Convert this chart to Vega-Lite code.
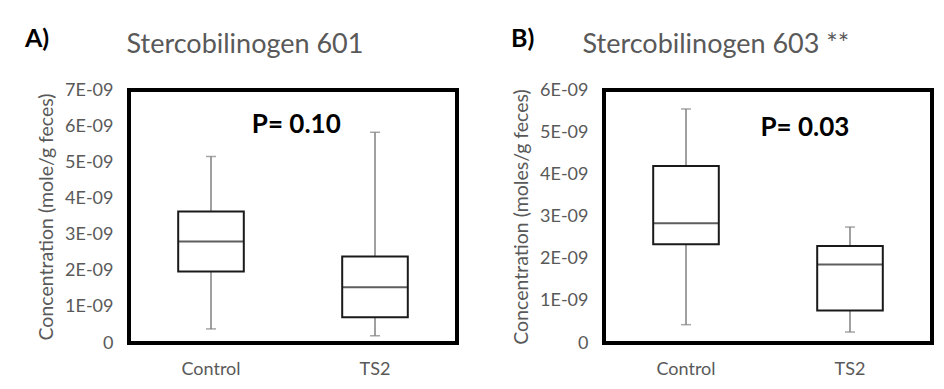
{
  "$schema": "https://vega.github.io/schema/vega-lite/v6.json",
  "background": "white",
  "padding": {"left": 23, "top": 25, "right": 5, "bottom": 5},
  "spacing": 50,
  "datasets": {
    "a": [
      {"group": "Control", "min": 3.9e-10, "q1": 1.98e-9, "median": 2.81e-9, "q3": 3.64e-9, "max": 5.16e-9},
      {"group": "TS2", "min": 2.0e-10, "q1": 7.1e-10, "median": 1.54e-9, "q3": 2.39e-9, "max": 5.83e-9}
    ],
    "b": [
      {"group": "Control", "min": 4.35e-10, "q1": 2.34e-9, "median": 2.84e-9, "q3": 4.2e-9, "max": 5.55e-9},
      {"group": "TS2", "min": 2.6e-10, "q1": 7.7e-10, "median": 1.86e-9, "q3": 2.3e-9, "max": 2.75e-9}
    ],
    "pa": [{"group": "Control", "label": "P= 0.10", "y": 6.04e-9}],
    "pb": [{"group": "TS2", "label": "P= 0.03", "y": 5.09e-9}]
  },
  "hconcat": [
    {
      "width": 328,
      "height": 253,
      "title": {"text": "A)", "anchor": "start", "frame": "group", "dx": -104, "offset": -22, "fontSize": 25, "fontWeight": "bold", "color": "black"},
      "layer": [
        {
          "data": {"name": "a"},
          "encoding": {
            "x": {
              "field": "group", "type": "nominal", "sort": ["Control", "TS2"],
              "scale": {"paddingInner": 0, "paddingOuter": 0},
              "axis": {"title": null, "labelAngle": 0, "ticks": false, "domain": false, "labelPadding": 17}
            }
          },
          "layer": [
            {
              "mark": {"type": "rule", "color": "#808080", "strokeWidth": 1.5},
              "encoding": {
                "y": {
                  "field": "min", "type": "quantitative",
                  "scale": {"domain": [0, 7e-9], "nice": false},
                  "axis": {
                    "title": "Concentration (mole/g feces)",
                    "values": [0, 1e-9, 2e-9, 3e-9, 4e-9, 5e-9, 6e-9, 7e-9],
                    "tickCount": 20,
                    "labelExpr": "datum.value == 0 ? '0' : round(datum.value * 1e9) + 'E-09'",
                    "labelOverlap": false,
                    "ticks": false, "domain": false, "grid": false,
                    "labelPadding": 16, "titlePadding": 8
                  }
                },
                "y2": {"field": "q1"}
              }
            },
            {
              "mark": {"type": "rule", "color": "#808080", "strokeWidth": 1.5},
              "encoding": {"y": {"field": "q3", "type": "quantitative"}, "y2": {"field": "max"}}
            },
            {
              "mark": {"type": "tick", "color": "#808080", "size": 10, "thickness": 1.5},
              "encoding": {"y": {"field": "min", "type": "quantitative"}}
            },
            {
              "mark": {"type": "tick", "color": "#808080", "size": 10, "thickness": 1.5},
              "encoding": {"y": {"field": "max", "type": "quantitative"}}
            },
            {
              "mark": {"type": "bar", "fill": "white", "stroke": "#1a1a1a", "strokeWidth": 2, "width": {"band": 0.4}},
              "encoding": {"y": {"field": "q1", "type": "quantitative"}, "y2": {"field": "q3"}}
            },
            {
              "mark": {"type": "tick", "color": "#1a1a1a", "size": 66, "thickness": 2},
              "encoding": {"y": {"field": "median", "type": "quantitative"}}
            }
          ]
        },
        {
          "data": {"name": "pa"},
          "mark": {"type": "text", "fontSize": 26, "fontWeight": "bold", "color": "black", "baseline": "middle", "align": "center"},
          "encoding": {
            "x": {
              "field": "group", "type": "nominal", "sort": ["Control", "TS2"], "bandPosition": 1.02,
              "axis": {"orient": "top", "title": "Stercobilinogen 601", "labels": false, "ticks": false, "domain": false,
                "titleAnchor": "start", "titleAlign": "left", "titleX": -3, "titleFontSize": 27, "titleColor": "#595959", "titlePadding": 32}
            },
            "y": {"field": "y", "type": "quantitative"},
            "text": {"field": "label"}
          }
        }
      ],
      "resolve": {"axis": {"x": "independent"}}
    },
    {
      "width": 328,
      "height": 253,
      "title": {"text": "B)", "anchor": "start", "frame": "group", "dx": -93, "offset": -22, "fontSize": 25, "fontWeight": "bold", "color": "black"},
      "layer": [
        {
          "data": {"name": "b"},
          "encoding": {
            "x": {
              "field": "group", "type": "nominal", "sort": ["Control", "TS2"],
              "scale": {"paddingInner": 0, "paddingOuter": 0},
              "axis": {"title": null, "labelAngle": 0, "ticks": false, "domain": false, "labelPadding": 17}
            }
          },
          "layer": [
            {
              "mark": {"type": "rule", "color": "#808080", "strokeWidth": 1.5},
              "encoding": {
                "y": {
                  "field": "min", "type": "quantitative",
                  "scale": {"domain": [0, 6e-9], "nice": false},
                  "axis": {
                    "title": "Concentration (moles/g feces)",
                    "values": [0, 1e-9, 2e-9, 3e-9, 4e-9, 5e-9, 6e-9],
                    "tickCount": 20,
                    "labelExpr": "datum.value == 0 ? '0' : round(datum.value * 1e9) + 'E-09'",
                    "labelOverlap": false,
                    "ticks": false, "domain": false, "grid": false,
                    "labelPadding": 16, "titlePadding": 8
                  }
                },
                "y2": {"field": "q1"}
              }
            },
            {
              "mark": {"type": "rule", "color": "#808080", "strokeWidth": 1.5},
              "encoding": {"y": {"field": "q3", "type": "quantitative"}, "y2": {"field": "max"}}
            },
            {
              "mark": {"type": "tick", "color": "#808080", "size": 10, "thickness": 1.5},
              "encoding": {"y": {"field": "min", "type": "quantitative"}}
            },
            {
              "mark": {"type": "tick", "color": "#808080", "size": 10, "thickness": 1.5},
              "encoding": {"y": {"field": "max", "type": "quantitative"}}
            },
            {
              "mark": {"type": "bar", "fill": "white", "stroke": "#1a1a1a", "strokeWidth": 2, "width": {"band": 0.4}},
              "encoding": {"y": {"field": "q1", "type": "quantitative"}, "y2": {"field": "q3"}}
            },
            {
              "mark": {"type": "tick", "color": "#1a1a1a", "size": 66, "thickness": 2},
              "encoding": {"y": {"field": "median", "type": "quantitative"}}
            }
          ]
        },
        {
          "data": {"name": "pb"},
          "mark": {"type": "text", "fontSize": 26, "fontWeight": "bold", "color": "black", "baseline": "middle", "align": "center"},
          "encoding": {
            "x": {
              "field": "group", "type": "nominal", "sort": ["Control", "TS2"], "bandPosition": 0.225,
              "axis": {"orient": "top", "title": "Stercobilinogen 603 **", "labels": false, "ticks": false, "domain": false,
                "titleAnchor": "start", "titleAlign": "left", "titleX": -22, "titleFontSize": 27, "titleColor": "#595959", "titlePadding": 32}
            },
            "y": {"field": "y", "type": "quantitative"},
            "text": {"field": "label"}
          }
        }
      ],
      "resolve": {"axis": {"x": "independent"}}
    }
  ],
  "resolve": {"scale": {"y": "independent"}},
  "config": {
    "font": "Lato",
    "view": {"stroke": "black", "strokeWidth": 4},
    "axis": {
      "labelColor": "#595959",
      "labelFontSize": 18,
      "labelFont": "Lato",
      "titleColor": "#595959",
      "titleFontSize": 19.5,
      "titleFontWeight": "normal",
      "titleFont": "Lato"
    },
    "title": {"font": "Lato"}
  }
}
